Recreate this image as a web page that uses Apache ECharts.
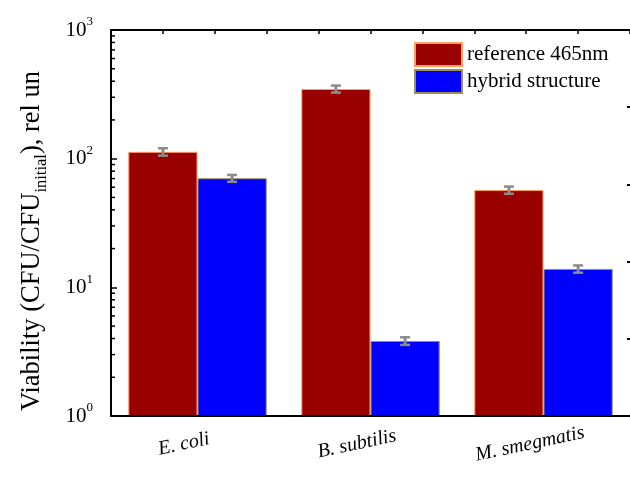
<!DOCTYPE html>
<html><head><meta charset="utf-8">
<script src="https://cdn.jsdelivr.net/npm/echarts@6/dist/echarts.min.js"></script>
<style>html,body{margin:0;padding:0;background:#fff}#c{width:630px;height:477px}</style>
</head><body><div id="c"></div>
<script>
const categories = ['E. coli', 'B. subtilis', 'M. smegmatis'];
const seriesNames = ['reference 465nm', 'hybrid structure'];
const refValues = [113, 348, 57];
const hybValues = [70.4, 3.83, 13.9];
const refErrors = [7.5, 22, 3.7];
const hybErrors = [4.3, 0.26, 0.9];
const minorTickValues = [2,3,4,5,6,7,8,9,20,30,40,50,60,70,80,90,200,300,400,500,600,700,800,900];

const serif = '"Liberation Serif", "Times New Roman", serif';
const chart = echarts.init(document.getElementById('c'), null, {renderer: 'canvas'});

function errData(vals, errs) { return vals.map((v, i) => [i, v - errs[i], v + errs[i]]); }
function errRender(sign) {
  return function (params, api) {
    const i = api.value(0);
    const lo = api.coord([i, api.value(1)]);
    const hi = api.coord([i, api.value(2)]);
    const band = api.size([1, 1])[0];
    const x = lo[0] + sign * band * 0.2;
    const cw = 5;
    const cap = {stroke: '#8c8c8c', lineWidth: 2.5};
    return {type: 'group', children: [
      {type: 'line', shape: {x1: x, y1: lo[1], x2: x, y2: hi[1]}, style: {stroke: '#8c8c8c', lineWidth: 3}},
      {type: 'line', shape: {x1: x - cw, y1: lo[1], x2: x + cw, y2: lo[1]}, style: cap},
      {type: 'line', shape: {x1: x - cw, y1: hi[1], x2: x + cw, y2: hi[1]}, style: cap}
    ]};
  };
}

const option = {
  animation: false,
  backgroundColor: '#fff',
  grid: {left: 111, right: 0, top: 30, bottom: 61},
  legend: {
    data: seriesNames, orient: 'vertical', left: 414, top: 42, padding: 0,
    itemWidth: 47, itemHeight: 23, itemGap: 2, icon: 'rect',
    textStyle: {fontFamily: serif, fontSize: 21, color: '#000'}
  },
  xAxis: [
    {
      type: 'category', data: categories, position: 'bottom', z: 10,
      axisLine: {lineStyle: {color: '#000', width: 2}},
      axisTick: {alignWithLabel: true, inside: true, length: 5, lineStyle: {color: '#000', width: 2}},
      axisLabel: {rotate: 12, fontStyle: 'italic', fontSize: 20, fontFamily: serif, color: '#000',
        align: 'center', verticalAlign: 'top', margin: 15, padding: [0, 32, 0, 0]}
    },
    {
      type: 'category', data: categories, position: 'bottom', z: 10,
      axisLine: {show: false},
      axisTick: {inside: true, length: 3, lineStyle: {color: '#000', width: 2}},
      axisLabel: {show: false}
    },
    {
      type: 'value', position: 'top', min: 0, max: 10, interval: 1, z: 10,
      axisLine: {lineStyle: {color: '#000', width: 2}},
      axisTick: {inside: true, length: 4, lineStyle: {color: '#000', width: 1.5}},
      axisLabel: {show: false}, splitLine: {show: false}
    }
  ],
  yAxis: [
    {
      type: 'log', logBase: 10, min: 1, max: 1000, position: 'left', z: 10,
      axisLine: {show: true, lineStyle: {color: '#000', width: 2}},
      axisTick: {show: true, inside: true, length: 6, lineStyle: {color: '#000', width: 1.5}},
      splitLine: {show: false},
      axisLabel: {
        margin: 18, color: '#000',
        formatter: v => '{b|10}{s|' + Math.round(Math.log10(v)) + '}',
        rich: {
          b: {fontFamily: serif, fontSize: 21, lineHeight: 21, color: '#000', verticalAlign: 'bottom'},
          s: {fontFamily: serif, fontSize: 13, lineHeight: 13, color: '#000', verticalAlign: 'bottom', padding: [0, 0, 12, 0]}
        }
      }
    },
    {
      type: 'value', min: 0, max: 5, interval: 1, position: 'right', z: 10,
      axisLine: {show: false},
      axisTick: {show: true, inside: true, length: 3, lineStyle: {color: '#000', width: 2}},
      axisLabel: {show: false}, splitLine: {show: false}
    }
  ],
  graphic: [{
    type: 'text', x: 32, y: 241, rotation: Math.PI / 2,
    style: {
      text: '{m|Viability (CFU/CFU}{sub|initial}{m|), rel un}',
      align: 'center', verticalAlign: 'middle',
      rich: {
        m: {fontFamily: serif, fontSize: 26.5, lineHeight: 26, fill: '#000', color: '#000', verticalAlign: 'top'},
        sub: {fontFamily: serif, fontSize: 16.5, lineHeight: 16, fill: '#000', color: '#000', verticalAlign: 'top', padding: [14, 0, 0, 0]}
      }
    }
  }],
  series: [
    {
      name: seriesNames[0], type: 'bar', data: refValues, barGap: '0%', barCategoryGap: '20%',
      itemStyle: {color: '#990000', borderColor: '#ff9e5e', borderWidth: 1}
    },
    {
      name: seriesNames[1], type: 'bar', data: hybValues, barGap: '0%', barCategoryGap: '20%',
      itemStyle: {color: '#0000ff', borderColor: '#9c8f5a', borderWidth: 1}
    },
    {type: 'custom', data: errData(refValues, refErrors), renderItem: errRender(-1), z: 5, silent: true},
    {type: 'custom', data: errData(hybValues, hybErrors), renderItem: errRender(1), z: 5, silent: true},
    {
      type: 'custom', data: minorTickValues.map(v => [0, v]), z: 10, silent: true, clip: false,
      renderItem: function (params, api) {
        const y = api.coord([0, api.value(1)])[1];
        const x0 = params.coordSys.x;
        return {type: 'line', shape: {x1: x0, y1: y, x2: x0 + 4, y2: y}, style: {stroke: '#000', lineWidth: 1.5}};
      }
    }
  ]
};
chart.setOption(option);
</script>
</body></html>
